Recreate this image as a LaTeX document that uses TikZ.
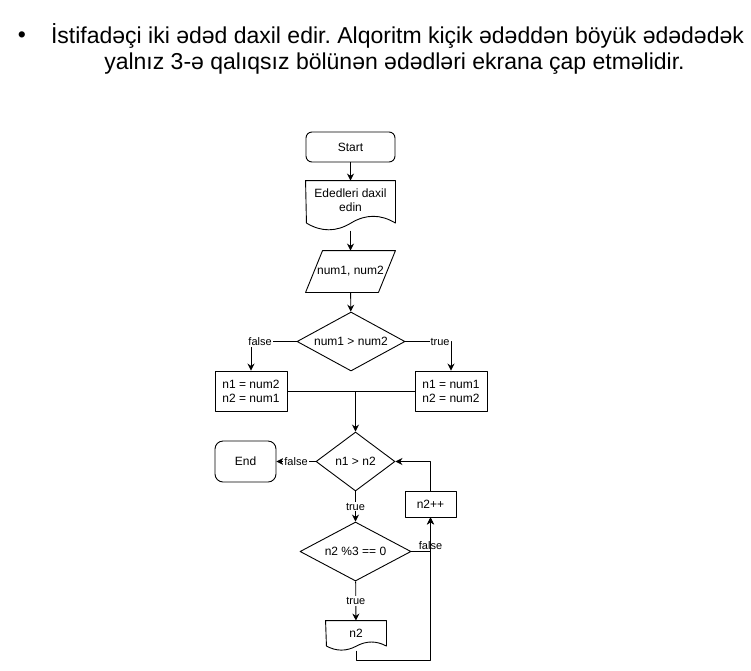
\documentclass[tikz,border=0pt]{standalone}
\usepackage{fontspec}
\setmainfont{Liberation Sans}
\usetikzlibrary{shapes.geometric,arrows.meta,calc}
\frenchspacing

% document shape with a wavy bottom: #1 node, #2 width, #3 height
\newcommand\wavydoc[3]{%
  \pgfmathsetmacro\wdy{0.3*#3}
  \draw (#1.north west) -- (#1.north east) -- ++(0,{#3-\wdy/2})
    .. controls +({-#2/6},{-0.6*\wdy}) and +({#2/6},{-0.6*\wdy}) .. ++({-#2/2},0)
    .. controls +({-#2/6},{0.6*\wdy}) and +({#2/6},{0.6*\wdy}) .. ++({-#2/2},0) -- cycle;
}

\begin{document}
\begin{tikzpicture}[x=1pt,y=-1pt,line width=0.9pt,line join=round,>={Stealth[length=7pt,width=7pt]},
    every node/.style={font=\fontsize{12}{14}\selectfont},
    term/.style={draw,rounded corners=6pt,minimum width=89,minimum height=30},
    box/.style={draw,align=center,minimum width=72,minimum height=40,inner sep=2pt},
    docbox/.style={align=center,inner sep=1pt},
    cond/.style={draw,shape=diamond,aspect=2,inner sep=1pt,minimum height=59},
    lbl/.style={fill=white,inner sep=1pt,font=\fontsize{11}{12}\selectfont},
    head/.style={anchor=base,font=\fontsize{23}{27}\selectfont}]
    \useasboundingbox (0,0) rectangle (751,670);
    %% task text
    \node[head] (dot) at (22,42) {•};
    \node[head] (hdra) at (397.5,43) {İstifadəçi iki ədəd daxil edir. Alqoritm kiçik ədəddən böyük ədədədək};
    \node[head] (hdrb) at (394.5,69) {yalnız 3-ə qalıqsız bölünən ədədləri ekrana çap etməlidir.};
    %% blocks
    \node[term] (start) at (350.5,147) {Start};
    \node[docbox,minimum width=89,minimum height=38] (doc) at (350.5,200) {Ededleri daxil\\edin};
    \wavydoc{doc}{89}{50}
    \coordinate (docb) at ($(doc.north)+(0,50)$);
    \node[minimum width=89,minimum height=41,inner sep=0pt] (inp) at (350.5,271.5) {num1, num2};
    \draw (inp.south west) -- ($(inp.north west)+(17,0)$) -- (inp.north east) -- ($(inp.south east)+(-17,0)$) -- cycle;
    \node[cond,minimum width=108] (cmp) at (351,341.5) {num1 > num2};
    \node[box] (swap) at (251,391) {n1 = num2\\n2 = num1};
    \node[box] (keep) at (451,391) {n1 = num1\\n2 = num2};
    \node[cond,minimum width=79] (loop) at (355.5,461.5) {n1 > n2};
    \node[term,minimum width=61,minimum height=41,rounded corners=8pt] (stop) at (245.5,461.5) {End};
    \node[box,minimum width=51,minimum height=26] (inc) at (430.5,504) {n2++};
    \node[cond,minimum width=111] (mod) at (355.5,551.5) {n2 \%3 == 0};
    \node[docbox,minimum width=60,minimum height=24] (out) at (356,633) {n2};
    \wavydoc{out}{60}{30}
    \coordinate (outb) at ($(out.north)+(0,30)$);
    \coordinate (back) at ($(outb)+(0,10)$);
    %% connectors
    \draw[->] (start) -- (doc);
    \draw[->] (docb) -- (inp);
    \draw[->] (inp) -- (cmp);
    \draw[->] (cmp.west) -| node[lbl,pos=0.4] {false} (swap.north);
    \draw[->] (cmp.east) -| node[lbl,pos=0.38] {true} (keep.north);
    \draw (swap) -- (keep);
    \draw[->] (swap.east -| loop.north) -- (loop);
    \draw[->] (loop) -- node[lbl] {false} (stop);
    \draw[->] (loop) -- node[lbl] {true} (mod);
    \draw[->] (mod.east) -| node[pos=0.5,anchor=south,inner sep=1pt,font=\fontsize{11}{12}\selectfont] {false} (inc.south);
    \draw[->] (inc.north) |- (loop.east);
    \draw[->] (mod) -- node[lbl] {true} (out);
    \draw[->] (outb) -- (back) -| (inc.south);
\end{tikzpicture}
\end{document}
